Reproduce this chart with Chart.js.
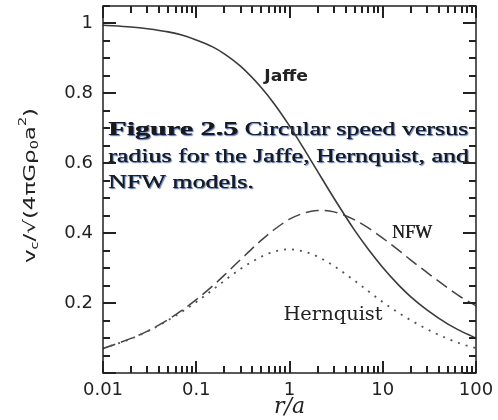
<!DOCTYPE html>
<html>
<head>
<meta charset="utf-8">
<title>Circular speed: Jaffe, Hernquist, NFW</title>
<script src="https://cdn.jsdelivr.net/npm/chart.js"></script>
<style>
  html, body { margin: 0; padding: 0; background: #fff; }
</style>
</head>
<body>
<canvas id="speedChart" width="498" height="420"></canvas>
<script>
// r/a sample points and v_c / sqrt(4 pi G rho0 a^2)
const radii = [0.01, 0.02, 0.03, 0.05, 0.07, 0.1, 0.15, 0.2, 0.3, 0.5, 0.7, 1,
               1.5, 2, 3, 5, 7, 10, 15, 20, 30, 50, 70, 100];
const jaffe = [0.995, 0.990, 0.985, 0.976, 0.967, 0.953, 0.933, 0.913, 0.877, 0.816, 0.767, 0.707,
               0.632, 0.577, 0.500, 0.408, 0.354, 0.302, 0.250, 0.218, 0.180, 0.140, 0.119, 0.100];
const hernquist = [0.070, 0.098, 0.119, 0.151, 0.175, 0.203, 0.238, 0.264, 0.298, 0.333, 0.348, 0.354,
                   0.346, 0.333, 0.306, 0.264, 0.234, 0.203, 0.171, 0.151, 0.125, 0.098, 0.083, 0.071];
const nfw = [0.070, 0.099, 0.120, 0.153, 0.179, 0.210, 0.249, 0.280, 0.325, 0.380, 0.412, 0.440,
             0.459, 0.465, 0.461, 0.438, 0.415, 0.386, 0.350, 0.323, 0.287, 0.243, 0.216, 0.192];

const xTicks = [0.01, 0.1, 1, 10, 100];
const xMinorSteps = [2, 3, 4, 5, 6, 7, 8, 9];
const yTicks = [0.2, 0.4, 0.6, 0.8, 1];
const yMinorStep = 0.05;

const seriesNames = ['Jaffe', 'Hernquist', 'NFW'];
const captionLines = [
  ['Figure 2.5', ' Circular speed versus'],
  ['', 'radius for the Jaffe, Hernquist, and'],
  ['', 'NFW models.']
];

const ink = '#222';
const X_MIN = 0.01, X_MAX = 100, Y_MIN = 0, Y_MAX = 1.05;

function points(ys) {
  return radii.map((r, i) => ({ x: r, y: ys[i] }));
}

// text stretched horizontally by sx
function drawWide(ctx, text, x, y, font, sx, align) {
  ctx.save();
  ctx.font = font;
  const w = ctx.measureText(text).width * sx;
  const left = align === 'center' ? x - w / 2 : x;
  ctx.translate(left, y);
  ctx.scale(sx, 1);
  ctx.textAlign = 'left';
  ctx.fillText(text, 0, 0);
  ctx.restore();
  return w;
}

function drawFrameAndTicks(chart) {
  const ctx = chart.ctx;
  const a = chart.chartArea;
  const L = a.left, R = a.right, T = a.top, B = a.bottom;
  const lx0 = Math.log10(X_MIN), lx1 = Math.log10(X_MAX);
  const xPix = v => L + (Math.log10(v) - lx0) / (lx1 - lx0) * (R - L);
  const yPix = v => B - (v - Y_MIN) / (Y_MAX - Y_MIN) * (B - T);
  ctx.save();
  ctx.setTransform(1, 0, 0, 1, 0, 0);
  ctx.globalAlpha = 1;
  ctx.shadowColor = 'transparent';
  ctx.setLineDash([]);
  ctx.strokeStyle = ink;
  ctx.fillStyle = ink;
  ctx.lineWidth = 1.5;
  ctx.strokeRect(L, T, R - L, B - T);

  // x ticks, inward, bottom and top
  xTicks.forEach(dec => {
    [1].concat(xMinorSteps).forEach(k => {
      const v = dec * k;
      if (v > X_MAX * 1.0001) return;
      const px = Math.round(xPix(v));
      const len = k === 1 ? 12 : 7;
      ctx.fillRect(px - 1, B - len, 2, len);
      ctx.fillRect(px - 1, T, 2, len);
    });
  });
  // y ticks, inward, left and right
  for (let i = 0; i <= 21; i++) {
    const py = Math.round(yPix(i * yMinorStep));
    const len = i % 4 === 0 ? 13 : 7;
    ctx.fillRect(L, py - 1, len, 2);
    ctx.fillRect(R - len, py - 1, len, 2);
  }
  ctx.restore();
}

const decorPlugin = {
  id: 'decor',
  beforeDatasetsDraw(chart) {
    const { ctx, chartArea: a } = chart;
    // caption overlapping the plot
    ctx.save();
    ctx.beginPath();
    ctx.rect(a.left, 0, a.right - a.left, chart.height);
    ctx.clip();
    const boldFont = 'bold 19px "Liberation Serif"';
    const normFont = '19px "Liberation Serif"';
    ctx.font = boldFont;
    const wBold = ctx.measureText(captionLines[0][0]).width;
    const sxB = 130 / wBold;
    ctx.font = normFont;
    const wRest = ctx.measureText(captionLines[0][1]).width;
    const sxN = (360 - 130) / wRest;
    ctx.fillStyle = '#1c1812';
    ctx.shadowColor = 'rgba(90,130,210,0.9)';
    ctx.shadowOffsetX = 1;
    ctx.shadowOffsetY = 1;
    ctx.shadowBlur = 1;
    ctx.textBaseline = 'middle';
    const lineYs = [130, 157, 183];
    captionLines.forEach((ln, i) => {
      let x = a.left + 5;
      if (ln[0]) x += drawWide(ctx, ln[0], x, lineYs[i], boldFont, sxB, 'left');
      drawWide(ctx, ln[1], x, lineYs[i], normFont, sxN, 'left');
      if (ln[0]) drawWide(ctx, ln[0], a.left + 5.5, lineYs[i], boldFont, sxB, 'left');
      drawWide(ctx, ln[1], x + 0.4, lineYs[i], normFont, sxN, 'left');
    });
    ctx.restore();
  },
  afterDatasetsDraw(chart) {
    const { ctx, scales: { x, y } } = chart;
    ctx.save();
    ctx.fillStyle = '#222';
    ctx.textBaseline = 'middle';
    drawWide(ctx, seriesNames[0], x.getPixelForValue(0.92), y.getPixelForValue(0.847),
      'bold 16px "DejaVu Sans"', 1.08, 'center');
    drawWide(ctx, seriesNames[2], x.getPixelForValue(20.6), y.getPixelForValue(0.40),
      '19px "Liberation Serif"', 0.95, 'center');
    drawWide(ctx, seriesNames[2], x.getPixelForValue(20.6) + 0.4, y.getPixelForValue(0.40),
      '19px "Liberation Serif"', 0.95, 'center');
    drawWide(ctx, seriesNames[1], x.getPixelForValue(2.93), y.getPixelForValue(0.166),
      '18px "DejaVu Serif"', 1.08, 'center');
    ctx.restore();
  },
  afterDraw(chart) {
    drawFrameAndTicks(chart);
    const ctx = chart.ctx;
    // y axis title with sub/superscripts
    ctx.save();
    const parts = [
      ['v', 0], ['c', 1], ['/\u221A(4\u03C0G\u03C1', 0], ['0', 1], ['a', 0], ['2', -1], [')', 0]
    ];
    const big = '16px "DejaVu Sans"';
    const small = '10px "DejaVu Sans"';
    let total = 0;
    parts.forEach(p => { ctx.font = p[1] ? small : big; total += ctx.measureText(p[0]).width; });
    const sxT = 155 / total;
    ctx.translate(30, 263);
    ctx.rotate(-Math.PI / 2);
    ctx.scale(sxT, 1);
    ctx.fillStyle = '#222';
    ctx.textBaseline = 'alphabetic';
    let cx = 0;
    parts.forEach(p => {
      ctx.font = p[1] ? small : big;
      const dy = p[1] === 1 ? 3 : (p[1] === -1 ? -9 : 0);
      ctx.fillText(p[0], cx, 5 + dy);
      cx += ctx.measureText(p[0]).width;
    });
    ctx.restore();
  }
};

new Chart(document.getElementById('speedChart'), {
  type: 'line',
  data: {
    datasets: [
      { label: seriesNames[0], data: points(jaffe), borderColor: '#3a3a3a', borderWidth: 1.6 },
      { label: seriesNames[1], data: points(hernquist), borderColor: '#555', borderWidth: 1.8,
        borderDash: [2, 6] },
      { label: seriesNames[2], data: points(nfw), borderColor: '#444', borderWidth: 1.5,
        borderDash: [13, 6] }
    ]
  },
  options: {
    responsive: false,
    animation: false,
    devicePixelRatio: 1,
    layout: { padding: { top: 6, right: 22, left: 0, bottom: 0 } },
    elements: { point: { radius: 0 }, line: { cubicInterpolationMode: 'monotone', fill: false } },
    plugins: { legend: { display: false }, tooltip: { enabled: false } },
    scales: {
      x: {
        type: 'logarithmic', min: X_MIN, max: X_MAX,
        grid: { display: false, drawTicks: false },
        border: { display: false },
        afterBuildTicks: s => { s.ticks = xTicks.map(v => ({ value: v })); },
        afterFit: s => { s.height = 47; s.paddingLeft = 0; s.paddingRight = 0; },
        ticks: {
          autoSkip: false, maxRotation: 0, padding: 7, color: '#222',
          font: { family: 'DejaVu Sans', size: 18 },
          callback: v => String(v)
        },
        title: {
          display: true, text: 'r/a', color: '#222', padding: 0,
          font: { family: 'DejaVu Serif', style: 'italic', size: 22 }
        }
      },
      y: {
        min: Y_MIN, max: Y_MAX,
        grid: { display: false, drawTicks: false },
        border: { display: false },
        afterBuildTicks: s => { s.ticks = yTicks.map(v => ({ value: v })); },
        afterFit: s => { s.width = 103; s.paddingTop = 0; s.paddingBottom = 0; },
        ticks: {
          padding: 10, color: '#222',
          font: { family: 'DejaVu Sans', size: 18 },
          callback: v => String(v)
        }
      }
    }
  },
  plugins: [decorPlugin]
});
</script>
</body>
</html>
